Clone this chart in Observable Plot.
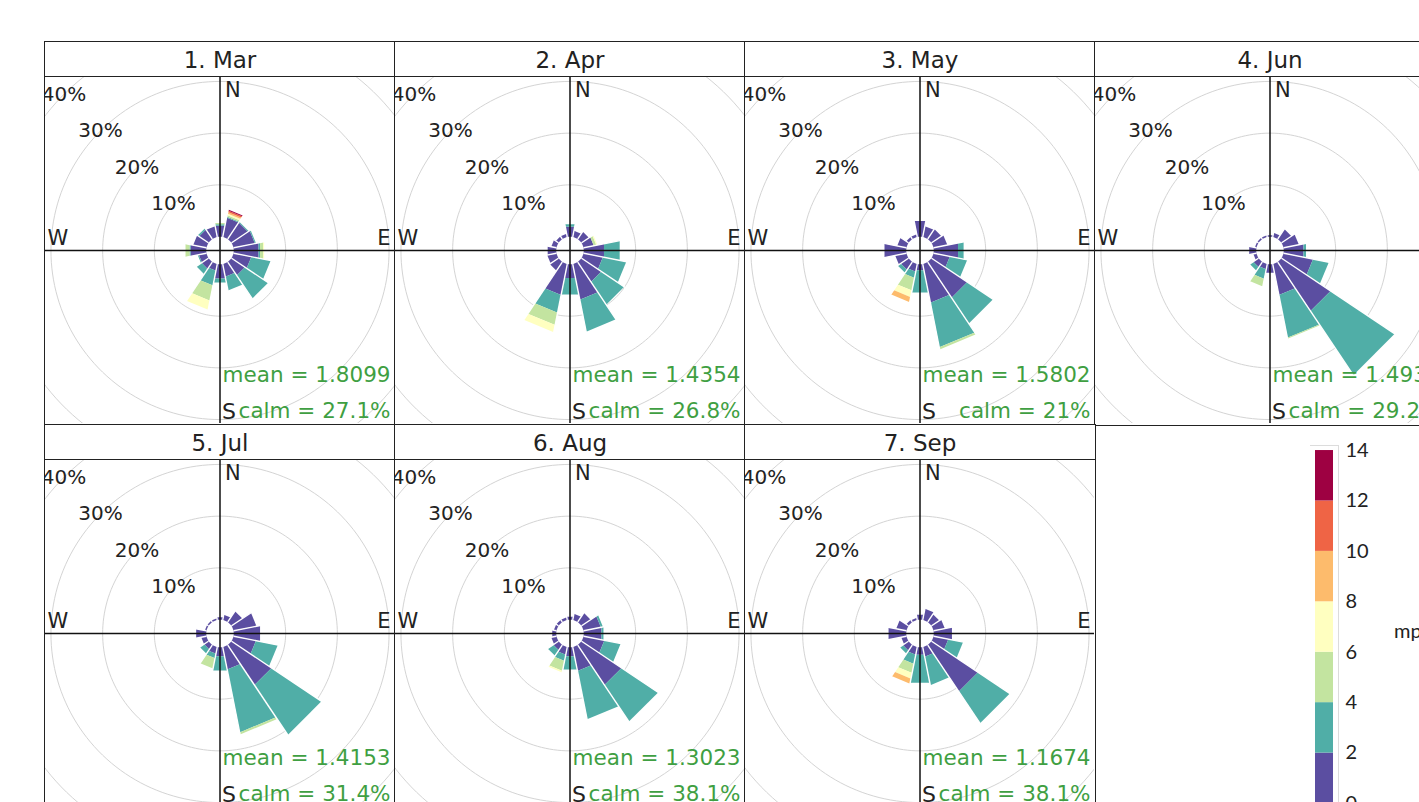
<!DOCTYPE html>
<html><head><meta charset="utf-8">
<script src="https://cdn.jsdelivr.net/npm/d3@7"></script>
<script src="https://cdn.jsdelivr.net/npm/@observablehq/plot@0.6"></script>
<style>
html,body{margin:0;padding:0;background:#fff;overflow:hidden;width:1419px;height:802px;}
#root{position:relative;width:1419px;height:802px;overflow:hidden;font-family:"DejaVu Sans",sans-serif;}
.cell{position:absolute;width:352px;height:385px;border:1.5px solid #222;box-sizing:border-box;background:#fff;}
.strip{height:34px;border-bottom:1.5px solid #222;text-align:center;font-size:23px;line-height:36px;color:#222;}
.cell svg{display:block;}
#legend{position:absolute;left:1300px;top:440px;}
#unit{position:absolute;left:1394px;top:618px;font-family:Lato,sans-serif;font-size:20px;color:#222;}
</style></head><body><div id="root"></div>
<script>
// ---- data ----
const panelTitles = ["1. Mar", "2. Apr", "3. May", "4. Jun", "5. Jul", "6. Aug", "7. Sep"];
const meanSpeed = [1.8099, 1.4354, 1.5802, 1.4932, 1.4153, 1.3023, 1.1674];
const calmPct = ["27.1", "26.8", "21", "29.2", "31.4", "38.1", "38.1"];
const dirNames = ["N","NNE","NE","ENE","E","ESE","SE","SSE","S","SSW","SW","WSW","W","WNW","NW","NNW"];
const dirAngles = [0,22.5,45,67.5,90,112.5,135,157.5,180,202.5,225,247.5,270,292.5,315,337.5];
const speedBins = ["0 to 2","2 to 4","4 to 6","6 to 8","8 to 10","10 to 12","12 to 14"];
const binLow = [0,2,4,6,8,10,12];
const binHigh = [2,4,6,8,10,12,14];
const binColors = ["#5b4ea1","#50aea7","#c3e4a0","#ffffc0","#fdbb6c","#ef6445","#9e0142"];
const legendTicks = [0,2,4,6,8,10,12,14];
const ringLevels = [10,20,30,40];

// cumulative frequency (%) at the top of each speed bin, per direction (N, NNE, ... NNW)
const marCum = [[2.2,2.5,2.7],[3.8,4.0,4.3,4.6,4.9,5.2,5.4],[3.8,4.0],[4.2,4.4],[4.9,5.2,5.8,6.0],[3.5,7.3],[3.1,8.5],[2.5,5.2],[2.8,3.6],[1.3,4.2,7.2,9.0],[1.6,2.8],[1.5,1.7],[3.1,3.3,4.1],[2.6],[2.2,2.5],[2.1]];
const aprCum = [[2.0,2.5],[1.2],[1.7],[2.0,2.0,2.5,2.7],[4.0,7.1],[3.8,8.4],[4.6,9.9],[7.0,13.3],[2.7,6.0],[6.1,9.6,12.0,13.4],[2.0],[1.8],[1.7],[1.0],[0.6],[0.6]];
const mayCum = [[3.1],[2.1],[2.3],[2.7],[4.8,5.9],[3.2,6.6],[8.3,14.3],[7.6,16.4,16.8],[1.2,5.6],[1.5,2.7,5.2,6.5,7.5],[1.8,2.5],[2.2],[4.3],[1.8],[0.5],[0.5]];
const junCum = [[0.3],[0.8],[2.3],[3.0],[3.9,4.4],[5.8,8.9],[11.4,26.3],[6.1,14.5,14.7],[1.7],[1.0,2.9,4.4],[1.2,2.0],[0.6],[1.4],[0.3],[0.3],[0.3]];
const julCum = [[0.5],[1.0],[2.5],[4.5],[5.2],[4.4,8.7],[9.3,20.9],[4.4,16.8,17.2],[1.8,4.6],[1.3,2.2,4.2],[1.0,2.0],[1.0],[2.0],[0.3],[0.3],[0.3]];
const augCum = [[0.6],[1.2],[2.1],[3.4,3.8],[3.5,3.9],[4.1,7.3],[9.3,17.8],[4.7,14.2],[1.8,4.4],[1.5,2.7,4.7,5.0],[1.2,2.5],[1.0],[0.8],[0.5],[0.5],[0.5]];
const sepCum = [[1.0],[2.2],[1.8],[2.2],[3.6],[2.9,5.8],[10.8,18.2],[1.9,7.5],[1.5,7.0],[1.5,3.3,5.1,6.2,7.2],[1.3,2.0],[1.0],[3.5],[2.0],[0.5],[0.4]];
const monthCum = [marCum, aprCum, mayCum, junCum, julCum, augCum, sepCum];

// ---- layout ----
const PX = 5.17;      // pixels per percent
const OFFSET = 2.7;   // calm hole radius, in percent units
const HALF = 11.25;   // half sector width (deg)
const W = 349, H = 346;
const FONT = "DejaVu Sans";
const GREEN = "#3f9f42";
const rad = d => d * Math.PI / 180;

function panel(k) {
  const cum = monthCum[k];
  const wedgePts = [];
  const seps = [];
  cum.forEach((c, i) => {
    const b = dirAngles[i];
    c.forEach((v, j) => {
      const r0 = OFFSET + (j === 0 ? 0 : c[j - 1]);
      const r1 = OFFSET + v;
      if (r1 <= r0) return;
      const id = `${dirNames[i]}-${j}`;
      [[r0, b - HALF], [r1, b - HALF], [r1, b + HALF], [r0, b + HALF]].forEach(([r, a]) =>
        wedgePts.push({id, bin: speedBins[j], x: r * Math.sin(rad(a)), y: r * Math.cos(rad(a))}));
    });
    const next = cum[(i + 1) % cum.length];
    const rmax = OFFSET + Math.max(c[c.length - 1], next[next.length - 1]) + 0.3;
    const a = rad(b + HALF);
    seps.push({x1: OFFSET * Math.sin(a), y1: OFFSET * Math.cos(a), x2: rmax * Math.sin(a), y2: rmax * Math.cos(a)});
  });
  const ringPts = [];
  ringLevels.forEach(l => { for (let a = 0; a <= 360; a += 2) ringPts.push({ring: l, x: (OFFSET + l) * Math.sin(rad(a)), y: (OFFSET + l) * Math.cos(rad(a))}); });
  const ringLabels = ringLevels.map(l => ({t: l + "%", x: -(OFFSET + l) * Math.SQRT1_2, y: (OFFSET + l) * Math.SQRT1_2}));
  const hx = W / 2 / PX, hy = H / 2 / PX;
  return Plot.plot({
    width: W, height: H, margin: 0,
    x: {domain: [-hx, hx], axis: null},
    y: {domain: [-hy, hy], axis: null},
    color: {type: "ordinal", domain: speedBins, range: binColors},
    style: {overflow: "hidden", background: "white", fontFamily: FONT},
    marks: [
      Plot.line(ringPts, {x: "x", y: "y", z: "ring", stroke: "#d4d4d4", strokeWidth: 1, clip: true}),
      Plot.line(wedgePts, {x: "x", y: "y", z: "id", fill: "bin", stroke: "none", clip: true}),
      Plot.link(seps, {x1: "x1", y1: "y1", x2: "x2", y2: "y2", stroke: "white", strokeWidth: 1.4, clip: true}),
      Plot.ruleY([0], {stroke: "#111", strokeWidth: 1.5}),
      Plot.ruleX([0], {stroke: "#111", strokeWidth: 1.5}),
      Plot.text(ringLabels, {x: "x", y: "y", text: "t", fontSize: 20, fill: "#222", clip: true}),
      Plot.text(["N"], {frameAnchor: "top", textAnchor: "start", lineAnchor: "middle", dx: 5, dy: 13, fontSize: 21, fill: "#222"}),
      Plot.text(["E"], {frameAnchor: "right", textAnchor: "end", lineAnchor: "middle", dx: -4, dy: -12, fontSize: 21, fill: "#222"}),
      Plot.text(["W"], {frameAnchor: "left", textAnchor: "start", lineAnchor: "middle", dx: 2, dy: -12, fontSize: 21, fill: "#222"}),
      Plot.text(["S"], {frameAnchor: "bottom", textAnchor: "start", lineAnchor: "middle", dx: 2, dy: -12, fontSize: 22, fill: "#222"}),
      Plot.text([`mean = ${meanSpeed[k].toFixed(4)}`], {frameAnchor: "bottom-right", textAnchor: "end", lineAnchor: "middle", dx: -4, dy: -48, fontSize: 21.5, fill: GREEN}),
      Plot.text([`calm = ${calmPct[k]}%`], {frameAnchor: "bottom-right", textAnchor: "end", lineAnchor: "middle", dx: -4, dy: -12, fontSize: 21.5, fill: GREEN})
    ]
  });
}

const root = document.getElementById("root");
panelTitles.forEach((title, k) => {
  const col = k % 4, row = Math.floor(k / 4);
  const cell = document.createElement("div");
  cell.className = "cell";
  cell.style.left = (44 + 350 * col) + "px";
  cell.style.top = (41 + 383 * row) + "px";
  const strip = document.createElement("div");
  strip.className = "strip";
  strip.textContent = title;
  cell.appendChild(strip);
  cell.appendChild(panel(k));
  root.appendChild(cell);
});

// colour key
const legendBins = speedBins.map((s, j) => ({name: s, lo: binLow[j], hi: binHigh[j]}));
const legend = Plot.plot({
  width: 119, height: 380, marginTop: 5, marginBottom: 17, marginLeft: 10, marginRight: 81,
  x: {domain: ["mps"], axis: null, padding: 0},
  y: {domain: [0, 14.2], axis: null},
  color: {type: "ordinal", domain: speedBins, range: binColors},
  style: {overflow: "visible", background: "transparent", fontFamily: "Lato"},
  marks: [
    Plot.barY(legendBins, {x: () => "mps", y1: "lo", y2: "hi", fill: "name", insetLeft: 5, insetRight: 5}),
    Plot.ruleY([14.2], {stroke: "#dcdcdc"}),
    Plot.ruleX(["mps"], {dx: 14, stroke: "#dcdcdc"}),
    Plot.axisY({anchor: "right", ticks: legendTicks, tickSize: 0, tickPadding: 7, fontSize: 20, label: null, fill: "#222"})
  ]
});
const lg = document.createElement("div");
lg.id = "legend";
lg.appendChild(legend);
root.appendChild(lg);
const unit = document.createElement("div");
unit.id = "unit";
unit.textContent = "mps";
root.appendChild(unit);
</script></body></html>
